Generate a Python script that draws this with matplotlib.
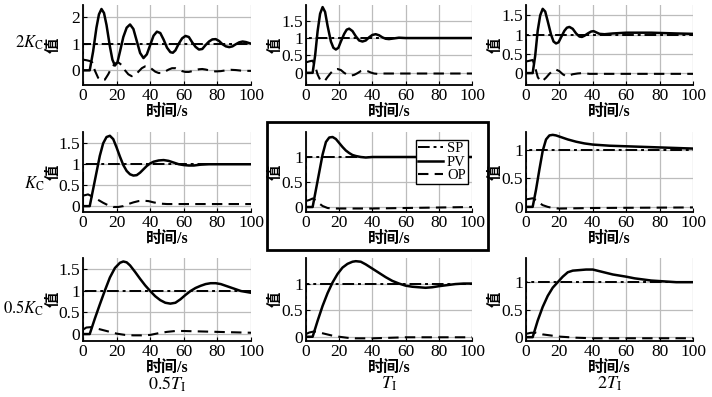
import matplotlib
matplotlib.use("Agg")
import matplotlib.pyplot as plt
from matplotlib.patches import Rectangle

plt.rcParams['mathtext.fontset'] = 'stix'
plt.rcParams['font.family'] = ['Liberation Serif', 'Noto Sans CJK SC']

# ---------------- data ----------------
sp_t = [0, 0, 100]
sp_y = [0, 1, 1]

# row 1: 2Kc
t_pv_11 = [0, 4, 6, 8, 9.5, 11, 12.5, 14, 16, 17.5, 19, 20.5, 22, 24, 26, 28, 30, 32, 34, 36, 38, 40, 42, 44, 46, 48, 50, 52, 53.5, 55, 57, 59, 61, 63, 65, 67, 69, 71, 73, 75, 77, 79, 81, 83, 85, 87, 89, 91, 93, 95, 97, 100]
pv_11 = [0, 0, 0.7, 1.6, 2.1, 2.3, 2.15, 1.7, 0.9, 0.4, 0.18, 0.3, 0.7, 1.25, 1.6, 1.72, 1.55, 1.1, 0.65, 0.46, 0.6, 0.95, 1.3, 1.45, 1.4, 1.15, 0.85, 0.68, 0.66, 0.75, 1.0, 1.2, 1.29, 1.25, 1.05, 0.88, 0.78, 0.8, 0.95, 1.08, 1.16, 1.17, 1.1, 0.98, 0.9, 0.87, 0.9, 0.98, 1.05, 1.08, 1.06, 1.0]
t_op_11 = [0, 2, 4, 5.5, 7, 9, 11, 13, 15, 17, 19, 21, 23, 25, 27, 29, 31, 33, 35, 37, 39, 41, 43, 45, 47, 49, 51, 53, 55, 57, 59, 61, 63, 65, 67, 69, 71, 73, 75, 77, 79, 82, 85, 88, 91, 94, 97, 100]
op_11 = [0.4, 0.38, 0.35, 0.3, 0.0, -0.28, -0.38, -0.35, -0.15, 0.1, 0.25, 0.3, 0.2, 0.0, -0.15, -0.22, -0.18, -0.05, 0.08, 0.15, 0.14, 0.05, -0.05, -0.1, -0.1, -0.04, 0.03, 0.08, 0.08, 0.03, -0.03, -0.06, -0.06, -0.03, 0.01, 0.04, 0.05, 0.03, 0.0, -0.03, -0.04, -0.03, 0.0, 0.02, 0.01, -0.01, -0.02, -0.02]

t_pv_12 = [0, 4, 5.5, 7, 8.5, 10, 11.5, 13, 15, 16.5, 18, 19.5, 21, 23, 24.5, 26, 28, 30, 32, 34, 36, 38, 40, 42, 44, 46, 48, 50, 53, 56, 60, 100]
pv_12 = [0, 0, 0.5, 1.2, 1.7, 1.89, 1.75, 1.35, 0.9, 0.72, 0.67, 0.72, 0.9, 1.12, 1.24, 1.27, 1.2, 1.05, 0.93, 0.9, 0.93, 1.02, 1.09, 1.11, 1.08, 1.02, 0.98, 0.97, 0.99, 1.01, 1.0, 1.0]
t_op_12 = [0, 2, 4, 5.5, 7, 8.5, 10, 11.5, 13, 15, 17, 19, 21, 23, 25, 27, 29, 31, 33, 35, 37, 39, 41, 43, 46, 50, 100]
op_12 = [0.3, 0.33, 0.35, 0.2, -0.05, -0.2, -0.24, -0.22, -0.12, 0.0, 0.09, 0.11, 0.08, 0.0, -0.06, -0.08, -0.06, -0.01, 0.05, 0.07, 0.05, 0.01, -0.02, -0.03, -0.02, -0.02, -0.02]

t_pv_13 = [0, 4, 5.5, 7, 8.5, 10, 11.5, 13, 15, 16.5, 18, 19.5, 21, 23, 24.5, 26, 28, 30, 32, 33.5, 35, 37, 39, 40.5, 42, 44, 47, 52, 60, 75, 90, 100]
pv_13 = [0, 0, 0.45, 1.1, 1.5, 1.67, 1.6, 1.35, 1.0, 0.82, 0.77, 0.8, 0.93, 1.1, 1.18, 1.2, 1.15, 1.03, 0.95, 0.94, 0.97, 1.03, 1.08, 1.09, 1.06, 1.02, 1.01, 1.03, 1.05, 1.05, 1.03, 1.02]
t_op_13 = [0, 2, 4, 5.5, 7, 8.5, 10, 12, 14, 16, 18, 20, 22, 24, 26, 28, 31, 34, 38, 50, 100]
op_13 = [0.3, 0.32, 0.34, 0.15, -0.1, -0.21, -0.2, -0.12, -0.02, 0.06, 0.09, 0.05, -0.03, -0.08, -0.06, -0.03, -0.01, 0.0, -0.02, -0.02, -0.02]

# row 2: Kc
t_pv_21 = [0, 4, 6, 8, 10, 12, 14, 16, 18, 20, 22, 24, 26, 28, 30, 32, 34, 36, 38, 40, 42, 45, 48, 51, 54, 57, 60, 63, 66, 70, 75, 100]
pv_21 = [0, 0, 0.4, 0.8, 1.2, 1.5, 1.65, 1.68, 1.6, 1.4, 1.18, 0.98, 0.84, 0.76, 0.73, 0.74, 0.8, 0.88, 0.96, 1.02, 1.06, 1.09, 1.1, 1.08, 1.04, 1.0, 0.98, 0.97, 0.97, 0.99, 1.0, 1.0]
t_op_21 = [0, 3, 6, 9, 12, 15, 18, 21, 24, 27, 30, 33, 36, 39, 42, 46, 50, 60, 100]
op_21 = [0.25, 0.28, 0.22, 0.15, 0.08, 0.02, -0.02, -0.02, 0.0, 0.05, 0.09, 0.12, 0.13, 0.12, 0.09, 0.06, 0.05, 0.05, 0.05]

t_pv_22 = [0, 4, 6, 8, 10, 12, 14, 16, 18, 20, 22, 24, 26, 28, 30, 33, 36, 40, 100]
pv_22 = [0, 0, 0.35, 0.7, 1.05, 1.3, 1.39, 1.4, 1.36, 1.28, 1.2, 1.13, 1.08, 1.04, 1.02, 1.0, 0.99, 1.0, 1.0]
t_op_22 = [0, 2, 4, 6, 8, 10, 13, 16, 25, 40, 60, 80, 100]
op_22 = [0.12, 0.14, 0.17, 0.13, 0.07, 0.02, -0.02, -0.03, -0.03, -0.03, -0.02, -0.01, 0.0]

t_pv_23 = [0, 4, 6, 8, 10, 12, 14, 16, 18, 20, 25, 30, 35, 40, 50, 60, 70, 80, 90, 100]
pv_23 = [0, 0, 0.3, 0.65, 0.98, 1.18, 1.25, 1.26, 1.25, 1.23, 1.18, 1.14, 1.11, 1.09, 1.07, 1.06, 1.05, 1.04, 1.03, 1.02]
t_op_23 = [0, 2, 4, 6, 8, 10, 13, 16, 20, 40, 100]
op_23 = [0.13, 0.14, 0.15, 0.12, 0.07, 0.03, 0.0, -0.02, -0.03, -0.02, -0.01]

# row 3: 0.5Kc
t_pv_31 = [0, 4, 7, 10, 13, 16, 19, 22, 24, 26, 28, 31, 34, 37, 40, 43, 46, 49, 52, 55, 58, 61, 64, 67, 70, 73, 76, 79, 82, 85, 88, 91, 94, 97, 100]
pv_31 = [0, 0, 0.35, 0.68, 1.0, 1.3, 1.52, 1.64, 1.67, 1.65, 1.58, 1.43, 1.27, 1.12, 0.99, 0.87, 0.78, 0.72, 0.7, 0.72, 0.8, 0.9, 0.99, 1.06, 1.11, 1.15, 1.17, 1.17, 1.15, 1.11, 1.07, 1.03, 0.99, 0.97, 0.95]
t_op_31 = [0, 2, 5, 8, 12, 16, 20, 25, 30, 35, 40, 45, 50, 55, 60, 70, 80, 90, 100]
op_31 = [0.1, 0.15, 0.16, 0.13, 0.09, 0.05, 0.01, -0.02, -0.03, -0.03, -0.02, 0.02, 0.05, 0.07, 0.07, 0.06, 0.05, 0.04, 0.03]

t_pv_32 = [0, 4, 7, 10, 13, 16, 19, 22, 25, 28, 30, 33, 36, 40, 44, 48, 52, 56, 60, 64, 68, 72, 76, 80, 85, 90, 95, 100]
pv_32 = [0, 0, 0.3, 0.58, 0.82, 1.02, 1.18, 1.3, 1.37, 1.41, 1.42, 1.41, 1.36, 1.28, 1.2, 1.12, 1.05, 1.0, 0.96, 0.94, 0.93, 0.92, 0.93, 0.95, 0.97, 0.99, 1.0, 1.0]
t_op_32 = [0, 2, 5, 8, 12, 16, 20, 25, 30, 40, 50, 60, 80, 100]
op_32 = [0.05, 0.08, 0.1, 0.08, 0.05, 0.02, 0.0, -0.02, -0.03, -0.03, -0.02, -0.01, -0.01, -0.01]

t_pv_33 = [0, 4, 7, 10, 13, 16, 19, 22, 25, 28, 32, 36, 40, 44, 48, 52, 56, 60, 65, 70, 75, 80, 90, 100]
pv_33 = [0, 0, 0.3, 0.55, 0.75, 0.9, 1.0, 1.1, 1.18, 1.21, 1.22, 1.23, 1.23, 1.2, 1.17, 1.14, 1.12, 1.1, 1.07, 1.05, 1.03, 1.02, 1.0, 1.0]
t_op_33 = [0, 3, 6, 10, 15, 20, 30, 40, 100]
op_33 = [0.06, 0.08, 0.08, 0.05, 0.03, 0.01, -0.01, -0.02, -0.02]

row_labels = [r'$2\mathit{K}_\mathrm{C}$', r'$\mathit{K}_\mathrm{C}$', r'$0.5\mathit{K}_\mathrm{C}$']
col_labels = [r'$0.5\mathit{T}_\mathrm{I}$', r'$\mathit{T}_\mathrm{I}$', r'$2\mathit{T}_\mathrm{I}$']
xticks = [0, 20, 40, 60, 80, 100]
yticks_11 = [0, 1, 2]
yticks_a = [0, 0.5, 1, 1.5]
yticks_b = [0, 0.5, 1]
legend_labels = ['SP', 'PV', 'OP']
ylabel_text = '值'
xlabel_text = '时间/s'

# ---------------- layout ----------------
W, H = 712, 397
fig = plt.figure(figsize=(W / 100, H / 100), dpi=100)

def px_axes(x0, y0, x1, y1):
    return fig.add_axes([x0 / W, 1 - y1 / H, (x1 - x0) / W, (y1 - y0) / H])

cols_px = [(83, 251), (306, 472), (526, 693)]
rows_px = [(5, 85), (132, 212), (258, 341)]

panels = [
    [(t_pv_11, pv_11, t_op_11, op_11, yticks_11, (-0.55, 2.45)),
     (t_pv_12, pv_12, t_op_12, op_12, yticks_a, (-0.35, 1.95)),
     (t_pv_13, pv_13, t_op_13, op_13, yticks_a, (-0.31, 1.77))],
    [(t_pv_21, pv_21, t_op_21, op_21, yticks_a, (-0.14, 1.77)),
     (t_pv_22, pv_22, t_op_22, op_22, yticks_b, (-0.1, 1.5)),
     (t_pv_23, pv_23, t_op_23, op_23, yticks_b, (-0.09, 1.31))],
    [(t_pv_31, pv_31, t_op_31, op_31, yticks_a, (-0.16, 1.75)),
     (t_pv_32, pv_32, t_op_32, op_32, yticks_b, (-0.08, 1.48)),
     (t_pv_33, pv_33, t_op_33, op_33, yticks_b, (-0.07, 1.44))],
]

def fmt(v):
    return ('%g' % v)

sp_style = (0, (6, 2, 1.5, 2))
op_style = (0, (5, 3))

for r in range(3):
    for c in range(3):
        tpv, pv, top, op, yt, yl = panels[r][c]
        ax = px_axes(cols_px[c][0], rows_px[r][0], cols_px[c][1], rows_px[r][1])
        l_sp, = ax.plot(sp_t, sp_y, color='black', lw=1.4, linestyle=sp_style)
        l_pv, = ax.plot(tpv, pv, color='black', lw=1.8)
        l_op, = ax.plot(top, op, color='black', lw=1.5, linestyle=op_style)
        ax.set_xlim(0, 100)
        ax.set_ylim(*yl)
        ax.set_xticks(xticks)
        ax.set_xticklabels([fmt(v) for v in xticks])
        ax.set_yticks(yt)
        ax.set_yticklabels([fmt(v) for v in yt])
        ax.grid(True, color='#bcbcbc', lw=0.9)
        ax.set_axisbelow(True)
        for s in ['top', 'right']:
            ax.spines[s].set_visible(False)
        for s in ['left', 'bottom']:
            ax.spines[s].set_linewidth(1.3)
        ax.tick_params(direction='in', length=3, width=0.8, labelsize=12.5, pad=2)
        ax.set_xlabel(xlabel_text, fontsize=11.5, fontweight='bold', labelpad=0,
                      family=['Liberation Serif', 'Noto Sans CJK SC'])
        ax.set_ylabel(ylabel_text, fontsize=11, fontweight='bold',
                      family=['Noto Sans CJK SC'])
        ax.yaxis.set_label_coords(-0.13 if c == 0 else -0.14, 0.5)
        if r == 1 and c == 1:
            leg = ax.legend([l_sp, l_pv, l_op], legend_labels, loc='upper right',
                            bbox_to_anchor=(0.976, 0.9), borderaxespad=0,
                            fontsize=10.5, handlelength=1.7, handletextpad=0.3,
                            labelspacing=0.0, borderpad=0.15, fancybox=False,
                            framealpha=1, edgecolor='black')
            leg.get_frame().set_linewidth(1.0)

# row labels
row_y = [43, 184, 308]
for lab, y in zip(row_labels, row_y):
    fig.text(44 / W, 1 - y / H, lab, fontsize=12, ha='right', va='center')

# column labels
col_x = [167, 389, 609]
for lab, x in zip(col_labels, col_x):
    fig.text(x / W, 1 - 384 / H, lab, fontsize=13, ha='center', va='center')

# box around centre panel
fig.add_artist(Rectangle((267 / W, 1 - 250 / H), (488 - 267) / W, (250 - 122) / H,
                         transform=fig.transFigure, fill=False, edgecolor='black', lw=2))

fig.savefig('out.png', dpi=100)
